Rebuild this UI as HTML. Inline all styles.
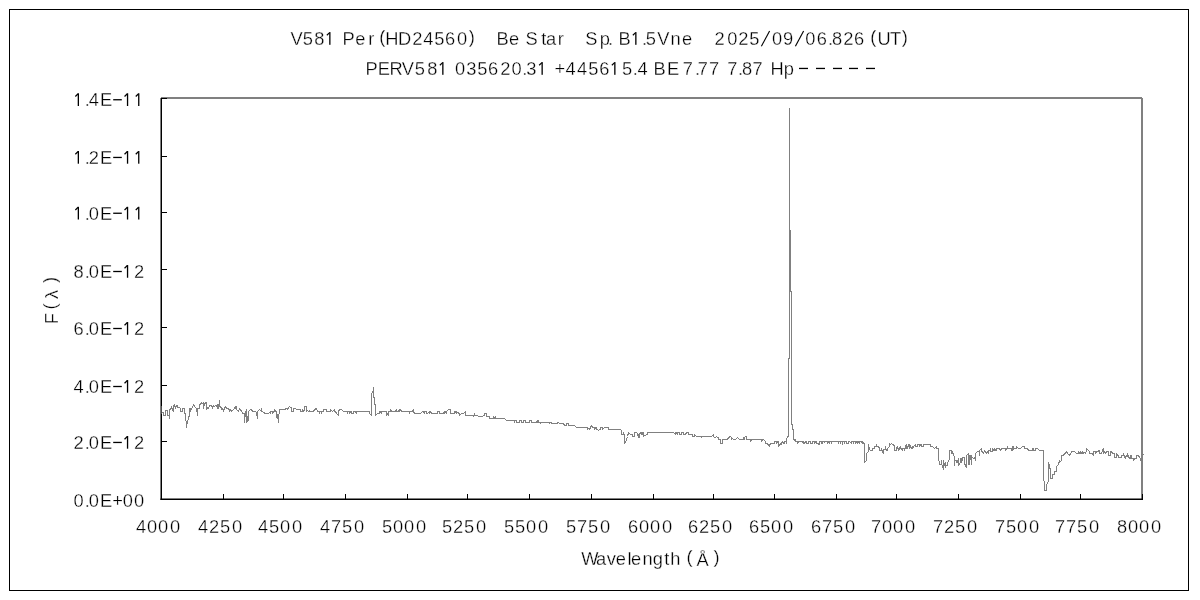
<!DOCTYPE html>
<html><head><meta charset="utf-8"><title>V581 Per spectrum</title>
<style>html,body{margin:0;padding:0;background:#fff;overflow:hidden}svg{display:block;filter:grayscale(1)}text{font-family:"Liberation Sans",sans-serif;white-space:pre;fill:#000;stroke:#fff;stroke-width:0.3px}.h{fill:none;stroke:none}</style></head><body>
<svg width="1200" height="600" viewBox="0 0 1200 600">
<rect x="0" y="0" width="1200" height="600" fill="#fff"/>
<rect x="9.5" y="9.5" width="1179" height="581" fill="none" stroke="#000" stroke-width="1"/>
<rect x="161" y="97" width="981" height="2" fill="#808080"/>
<rect x="1141" y="98" width="2" height="401" fill="#808080"/>
<g fill="none" stroke="#808080" stroke-width="1" shape-rendering="crispEdges" stroke-linejoin="round" stroke-linecap="square">
<polyline points="161.5,412.50 163.5,412.50 163.5,415.50 165.5,415.50 165.5,410.50 167.5,410.50 167.5,415.50 169.5,415.50 169.5,418.50 169.5,409.50 171.5,408.50 171.5,406.50 172.5,409.50 173.5,411.50 173.5,406.50 174.5,404.50 175.5,408.50 176.5,405.50 177.5,405.50 177.5,407.50 179.5,407.50 180.5,408.50 180.5,411.50 182.5,411.50 182.5,408.50 184.5,408.50 184.5,412.50 185.5,414.50 186.5,427.50 187.5,420.50 187.5,423.50 188.5,416.50 189.5,416.50 189.5,408.50 190.5,408.50 190.5,411.50 191.5,408.50 192.5,407.50 193.5,404.50 194.5,406.50 195.5,407.50 196.5,408.50 197.5,415.50 197.5,408.50 199.5,408.50 199.5,404.50 200.5,404.50 201.5,402.50 202.5,403.50 203.5,402.50 203.5,408.50 204.5,403.50 206.5,402.50 206.5,409.50 207.5,407.50 208.5,408.50 209.5,405.50 210.5,405.50 212.5,406.50 212.5,408.50 213.5,405.50 214.5,406.50 215.5,405.50 216.5,405.50 217.5,408.50 217.5,404.50 218.5,408.50 219.5,400.50 219.5,406.50 221.5,407.50 221.5,409.50 222.5,408.50 223.5,411.50 224.5,407.50 225.5,406.50 226.5,408.50 227.5,408.50 229.5,409.50 229.5,411.50 230.5,409.50 231.5,410.50 231.5,411.50 233.5,409.50 234.5,408.50 235.5,406.50 235.5,408.50 236.5,406.50 236.5,409.50 237.5,410.50 238.5,411.50 239.5,408.50 240.5,409.50 241.5,411.50 242.5,412.50 242.5,413.50 244.5,413.50 244.5,422.50 245.5,411.50 246.5,411.50 246.5,422.50 246.5,409.50 247.5,421.50 248.5,420.50 248.5,411.50 250.5,409.50 251.5,410.50 251.5,409.50 252.5,411.50 255.5,411.50 256.5,412.50 257.5,418.50 257.5,411.50 258.5,410.50 259.5,409.50 260.5,410.50 261.5,410.50 261.5,408.50 261.5,411.50 262.5,411.50 264.5,413.50 264.5,412.50 265.5,413.50 268.5,413.50 270.5,411.50 270.5,413.50 270.5,411.50 272.5,411.50 272.5,413.50 273.5,411.50 274.5,411.50 274.5,409.50 275.5,411.50 276.5,411.50 276.5,416.50 277.5,418.50 277.5,414.50 278.5,422.50 278.5,414.50 279.5,413.50 279.5,409.50 285.5,409.50 285.5,408.50 287.5,408.50 287.5,409.50 288.5,407.50 289.5,406.50 290.5,407.50 291.5,407.50 291.5,411.50 293.5,411.50 293.5,408.50 295.5,408.50 296.5,409.50 300.5,409.50 300.5,411.50 302.5,411.50 302.5,409.50 303.5,411.50 304.5,410.50 304.5,406.50 306.5,406.50 306.5,411.50 307.5,410.50 308.5,411.50 309.5,410.50 309.5,411.50 313.5,411.50 313.5,410.50 314.5,410.50 315.5,408.50 316.5,408.50 317.5,411.50 319.5,411.50 319.5,413.50 319.5,411.50 321.5,411.50 321.5,413.50 321.5,411.50 323.5,411.50 323.5,409.50 326.5,409.50 326.5,411.50 330.5,411.50 330.5,409.50 332.5,411.50 333.5,410.50 334.5,409.50 334.5,411.50 335.5,411.50 336.5,413.50 338.5,415.50 338.5,411.50 339.5,409.50 341.5,409.50 342.5,410.50 343.5,411.50 347.5,411.50 347.5,413.50 347.5,411.50 349.5,411.50 349.5,413.50 350.5,411.50 351.5,411.50 351.5,413.50 353.5,413.50 353.5,411.50 355.5,411.50 356.5,413.50 356.5,411.50 359.5,411.50 360.5,411.50 369.5,411.50 369.5,413.50 371.5,415.50 371.5,393.50 372.5,392.50 372.5,391.50 373.5,390.50 373.5,387.50 373.5,397.50 374.5,397.50 374.5,404.50 375.5,404.50 375.5,415.50 377.5,413.50 379.5,413.50 379.5,411.50 380.5,411.50 381.5,413.50 381.5,411.50 386.5,411.50 386.5,415.50 387.5,413.50 388.5,415.50 388.5,411.50 390.5,411.50 390.5,409.50 391.5,411.50 395.5,411.50 396.5,409.50 396.5,411.50 398.5,411.50 399.5,409.50 399.5,411.50 400.5,409.50 401.5,411.50 409.5,411.50 409.5,413.50 409.5,411.50 412.5,411.50 413.5,409.50 413.5,411.50 414.5,413.50 420.5,413.50 422.5,411.50 423.5,411.50 424.5,413.50 424.5,411.50 426.5,411.50 426.5,413.50 427.5,413.50 429.5,411.50 429.5,413.50 430.5,411.50 431.5,413.50 437.5,413.50 437.5,411.50 439.5,411.50 439.5,413.50 443.5,413.50 444.5,411.50 444.5,413.50 445.5,411.50 446.5,413.50 446.5,411.50 448.5,409.50 450.5,409.50 450.5,413.50 454.5,413.50 454.5,411.50 455.5,411.50 456.5,413.50 456.5,411.50 457.5,412.50 459.5,413.50 459.5,415.50 459.5,413.50 460.5,414.50 461.5,413.50 463.5,413.50 464.5,412.50 465.5,411.50 465.5,415.50 473.5,415.50 473.5,416.50 474.5,415.50 474.5,413.50 474.5,415.50 477.5,415.50 478.5,416.50 482.5,416.50 483.5,415.50 484.5,415.50 484.5,413.50 486.5,413.50 486.5,416.50 489.5,416.50 489.5,418.50 493.5,418.50 493.5,416.50 494.5,418.50 495.5,416.50 495.5,418.50 504.5,418.50 506.5,420.50 514.5,420.50 514.5,422.50 514.5,420.50 516.5,420.50 516.5,422.50 519.5,422.50 519.5,420.50 521.5,420.50 521.5,422.50 523.5,422.50 523.5,420.50 525.5,420.50 525.5,422.50 529.5,422.50 529.5,420.50 531.5,420.50 531.5,422.50 536.5,422.50 537.5,420.50 537.5,422.50 538.5,420.50 538.5,422.50 540.5,422.50 540.5,423.50 540.5,422.50 549.5,422.50 549.5,423.50 550.5,422.50 551.5,422.50 551.5,423.50 557.5,423.50 557.5,422.50 558.5,422.50 559.5,423.50 560.5,423.50 563.5,423.50 564.5,425.50 566.5,425.50 566.5,423.50 568.5,423.50 568.5,425.50 574.5,425.50 576.5,427.50 587.5,427.50 587.5,429.50 588.5,428.50 589.5,429.50 590.5,427.50 591.5,425.50 592.5,427.50 594.5,427.50 594.5,429.50 595.5,427.50 596.5,427.50 596.5,429.50 597.5,429.50 598.5,430.50 599.5,429.50 600.5,429.50 600.5,427.50 602.5,427.50 602.5,429.50 603.5,428.50 604.5,427.50 608.5,427.50 608.5,429.50 620.5,429.50 621.5,430.50 621.5,434.50 623.5,434.50 623.5,432.50 624.5,435.50 624.5,443.50 625.5,442.50 626.5,439.50 627.5,436.50 628.5,432.50 630.5,434.50 632.5,434.50 632.5,436.50 634.5,436.50 634.5,432.50 636.5,432.50 637.5,433.50 638.5,437.50 638.5,434.50 639.5,437.50 639.5,433.50 641.5,432.50 641.5,434.50 642.5,432.50 642.5,434.50 643.5,432.50 643.5,436.50 644.5,435.50 647.5,434.50 647.5,432.50 659.5,432.50 660.5,432.50 673.5,432.50 674.5,433.50 675.5,432.50 675.5,434.50 676.5,432.50 677.5,434.50 677.5,432.50 679.5,432.50 679.5,434.50 681.5,434.50 681.5,432.50 683.5,432.50 683.5,434.50 685.5,434.50 686.5,432.50 688.5,432.50 688.5,434.50 692.5,434.50 692.5,436.50 694.5,436.50 694.5,434.50 695.5,435.50 696.5,436.50 701.5,436.50 701.5,437.50 701.5,436.50 711.5,436.50 712.5,435.50 713.5,434.50 713.5,436.50 714.5,437.50 715.5,437.50 716.5,436.50 717.5,437.50 718.5,437.50 718.5,439.50 720.5,439.50 720.5,443.50 722.5,443.50 722.5,439.50 726.5,439.50 727.5,438.50 727.5,439.50 728.5,437.50 730.5,436.50 731.5,437.50 731.5,439.50 732.5,438.50 733.5,439.50 735.5,439.50 737.5,437.50 739.5,439.50 743.5,439.50 743.5,437.50 744.5,439.50 744.5,437.50 745.5,436.50 746.5,436.50 746.5,439.50 750.5,439.50 750.5,441.50 751.5,439.50 759.5,439.50 760.5,439.50 761.5,439.50 761.5,441.50 762.5,439.50 763.5,439.50 765.5,441.50 765.5,443.50 767.5,443.50 768.5,445.50 769.5,444.50 769.5,446.50 770.5,443.50 774.5,443.50 774.5,441.50 776.5,441.50 776.5,443.50 777.5,441.50 778.5,441.50 778.5,446.50 779.5,445.50 780.5,443.50 781.5,442.50 781.5,444.50 782.5,441.50 783.5,443.50 784.5,443.50 784.5,441.50 786.5,441.50 786.5,443.50 786.5,439.50 787.5,436.50 788.5,436.50 788.5,358.50 789.5,358.50 789.5,108.50 789.5,230.50 790.5,230.50 790.5,291.50 791.5,291.50 791.5,424.50 792.5,424.50 792.5,429.50 793.5,429.50 793.5,439.50 795.5,440.50 795.5,439.50 795.5,441.50 797.5,441.50 797.5,443.50 798.5,441.50 800.5,441.50 802.5,441.50 803.5,443.50 803.5,441.50 804.5,443.50 805.5,441.50 806.5,441.50 806.5,443.50 808.5,443.50 808.5,441.50 810.5,441.50 810.5,443.50 812.5,443.50 812.5,441.50 814.5,441.50 814.5,443.50 815.5,441.50 816.5,441.50 816.5,443.50 818.5,443.50 818.5,444.50 819.5,444.50 819.5,441.50 821.5,441.50 821.5,443.50 822.5,443.50 822.5,441.50 824.5,441.50 824.5,442.50 825.5,441.50 827.5,441.50 827.5,443.50 828.5,441.50 829.5,441.50 829.5,443.50 829.5,441.50 831.5,441.50 831.5,443.50 831.5,441.50 838.5,441.50 838.5,443.50 838.5,441.50 840.5,441.50 840.5,443.50 840.5,441.50 842.5,441.50 842.5,444.50 842.5,441.50 844.5,441.50 844.5,443.50 844.5,441.50 846.5,441.50 846.5,443.50 848.5,443.50 848.5,441.50 849.5,441.50 851.5,443.50 851.5,441.50 853.5,441.50 853.5,443.50 853.5,441.50 855.5,441.50 855.5,443.50 856.5,441.50 857.5,441.50 857.5,443.50 857.5,441.50 858.5,441.50 859.5,443.50 859.5,441.50 860.5,441.50 861.5,441.50 862.5,443.50 862.5,441.50 863.5,443.50 864.5,443.50 864.5,462.50 866.5,460.50 866.5,453.50 868.5,451.50 868.5,444.50 869.5,449.50 870.5,450.50 872.5,450.50 872.5,448.50 874.5,448.50 874.5,446.50 876.5,446.50 876.5,444.50 876.5,446.50 878.5,446.50 879.5,448.50 879.5,450.50 881.5,450.50 881.5,448.50 882.5,452.50 883.5,453.50 883.5,449.50 885.5,449.50 885.5,446.50 885.5,449.50 887.5,450.50 887.5,448.50 889.5,446.50 889.5,443.50 890.5,444.50 891.5,443.50 892.5,444.50 893.5,444.50 894.5,446.50 894.5,450.50 896.5,450.50 896.5,447.50 897.5,446.50 898.5,450.50 899.5,448.50 900.5,446.50 900.5,448.50 901.5,448.50 902.5,450.50 902.5,448.50 904.5,448.50 904.5,450.50 905.5,446.50 906.5,444.50 906.5,448.50 907.5,448.50 908.5,444.50 909.5,448.50 909.5,444.50 910.5,446.50 911.5,448.50 912.5,446.50 912.5,448.50 913.5,446.50 915.5,444.50 915.5,446.50 917.5,446.50 917.5,444.50 919.5,444.50 919.5,446.50 920.5,444.50 921.5,444.50 921.5,446.50 923.5,446.50 923.5,444.50 929.5,444.50 930.5,444.50 930.5,446.50 932.5,446.50 934.5,448.50 936.5,446.50 936.5,448.50 938.5,448.50 938.5,460.50 939.5,461.50 939.5,464.50 941.5,464.50 941.5,460.50 941.5,464.50 942.5,465.50 943.5,469.50 943.5,460.50 944.5,465.50 945.5,462.50 945.5,467.50 945.5,465.50 947.5,465.50 947.5,462.50 949.5,459.50 949.5,450.50 951.5,450.50 951.5,453.50 952.5,451.50 953.5,455.50 954.5,456.50 954.5,465.50 954.5,460.50 956.5,460.50 956.5,462.50 957.5,462.50 958.5,458.50 958.5,465.50 959.5,463.50 960.5,462.50 960.5,458.50 961.5,458.50 961.5,462.50 962.5,458.50 962.5,457.50 964.5,457.50 964.5,463.50 965.5,465.50 966.5,467.50 966.5,455.50 967.5,454.50 968.5,453.50 968.5,464.50 969.5,455.50 969.5,464.50 970.5,455.50 971.5,455.50 971.5,464.50 971.5,457.50 972.5,457.50 973.5,458.50 975.5,457.50 975.5,460.50 975.5,453.50 977.5,451.50 978.5,451.50 979.5,452.50 979.5,455.50 979.5,450.50 981.5,448.50 981.5,451.50 982.5,451.50 983.5,453.50 984.5,450.50 985.5,451.50 986.5,453.50 987.5,451.50 988.5,453.50 988.5,450.50 990.5,450.50 990.5,448.50 990.5,451.50 992.5,451.50 992.5,448.50 993.5,450.50 994.5,450.50 994.5,448.50 995.5,450.50 996.5,450.50 996.5,448.50 999.5,448.50 1000.5,450.50 1001.5,449.50 1001.5,448.50 1005.5,448.50 1005.5,450.50 1006.5,449.50 1007.5,446.50 1007.5,448.50 1011.5,448.50 1011.5,450.50 1012.5,446.50 1012.5,450.50 1013.5,446.50 1013.5,449.50 1014.5,448.50 1016.5,448.50 1016.5,446.50 1017.5,447.50 1018.5,448.50 1020.5,448.50 1021.5,447.50 1022.5,446.50 1024.5,446.50 1024.5,448.50 1027.5,448.50 1028.5,450.50 1029.5,450.50 1030.5,450.50 1032.5,450.50 1032.5,448.50 1033.5,448.50 1033.5,450.50 1035.5,450.50 1035.5,448.50 1037.5,448.50 1038.5,449.50 1039.5,450.50 1043.5,450.50 1043.5,480.50 1044.5,481.50 1044.5,490.50 1046.5,490.50 1046.5,484.50 1048.5,481.50 1048.5,462.50 1049.5,467.50 1049.5,464.50 1049.5,468.50 1050.5,468.50 1050.5,478.50 1052.5,478.50 1052.5,474.50 1054.5,474.50 1054.5,471.50 1056.5,471.50 1056.5,466.50 1057.5,465.50 1058.5,464.50 1059.5,460.50 1060.5,461.50 1061.5,460.50 1061.5,455.50 1063.5,455.50 1064.5,453.50 1065.5,453.50 1066.5,451.50 1067.5,453.50 1068.5,454.50 1069.5,455.50 1070.5,453.50 1071.5,452.50 1071.5,451.50 1074.5,451.50 1075.5,452.50 1076.5,453.50 1078.5,453.50 1078.5,451.50 1079.5,453.50 1080.5,453.50 1080.5,451.50 1081.5,453.50 1082.5,453.50 1082.5,451.50 1083.5,453.50 1084.5,452.50 1085.5,453.50 1085.5,452.50 1086.5,451.50 1086.5,448.50 1088.5,450.50 1089.5,451.50 1089.5,453.50 1092.5,453.50 1093.5,455.50 1093.5,451.50 1095.5,451.50 1095.5,453.50 1096.5,451.50 1098.5,451.50 1098.5,450.50 1099.5,450.50 1099.5,453.50 1101.5,453.50 1102.5,450.50 1103.5,448.50 1103.5,453.50 1104.5,451.50 1105.5,453.50 1106.5,451.50 1108.5,451.50 1108.5,455.50 1110.5,455.50 1110.5,451.50 1111.5,451.50 1112.5,453.50 1114.5,453.50 1114.5,457.50 1116.5,457.50 1116.5,453.50 1117.5,455.50 1118.5,455.50 1118.5,457.50 1121.5,457.50 1121.5,455.50 1123.5,455.50 1123.5,453.50 1124.5,457.50 1125.5,456.50 1125.5,458.50 1126.5,455.50 1127.5,456.50 1127.5,453.50 1128.5,456.50 1129.5,458.50 1130.5,455.50 1130.5,458.50 1131.5,455.50 1131.5,458.50 1133.5,458.50 1133.5,460.50 1134.5,458.50 1136.5,458.50 1136.5,455.50 1138.5,455.50 1139.5,457.50 1140.5,458.50 1140.5,460.50 1141.5,455.50 1143.5,454.50"/>
</g>
<rect x="160.5" y="98" width="1.5" height="402" fill="#000"/>
<rect x="160.5" y="498.5" width="982.5" height="1.5" fill="#000"/>
<rect x="160.3" y="406" width="1.3" height="8" fill="#808080"/>
<g fill="#000"><rect x="223" y="494" width="1" height="5"/><rect x="283" y="494" width="1" height="5"/><rect x="345" y="494" width="1" height="5"/><rect x="407" y="494" width="1" height="5"/><rect x="467" y="494" width="1" height="5"/><rect x="529" y="494" width="1" height="5"/><rect x="591" y="494" width="1" height="5"/><rect x="653" y="494" width="1" height="5"/><rect x="713" y="494" width="1" height="5"/><rect x="774" y="494" width="1" height="5"/><rect x="836" y="494" width="1" height="5"/><rect x="896" y="494" width="1" height="5"/><rect x="958" y="494" width="1" height="5"/><rect x="1020" y="494" width="1" height="5"/><rect x="1080" y="494" width="1" height="5"/><rect x="1142" y="494" width="1" height="5"/><rect x="162" y="441" width="5" height="1"/><rect x="162" y="385" width="5" height="1"/><rect x="162" y="327" width="5" height="1"/><rect x="162" y="269" width="5" height="1"/><rect x="162" y="212" width="5" height="1"/><rect x="162" y="156" width="5" height="1"/><rect x="162" y="98" width="5" height="1"/></g>
<text x="290.60 302.83 314.16 324.44 331.50 342.53 355.28 368.15 379.19 385.14 398.08 412.16 423.37 434.18 445.10 457.06 468.72 474.50 474.50 474.50 496.53 509.03 519.20 525.55 541.14 546.02 557.75 565.00 565.00 565.00 585.30 599.71 608.06 612.20 618.53 630.44 642.11 645.83 657.15 670.40 682.03 692.20 692.20 692.20 714.56 727.16 738.16 749.18 761.00 771.91 782.92 795.00 805.16 816.75 828.06 832.01 843.16 854.10 864.50 870.19 877.39 890.07 901.72" y="44.80 44.80 44.80 44.80 44.80 44.80 44.80 44.80 43.10 44.80 44.80 44.80 44.80 44.80 44.80 44.80 43.10 44.80 44.80 44.80 44.80 44.80 44.80 44.80 44.80 44.80 44.80 44.80 44.80 44.80 44.80 44.80 44.80 44.80 44.80 44.80 44.80 44.80 44.80 44.80 44.80 44.80 44.80 44.80 44.80 44.80 44.80 44.80 44.80 44.80 44.80 44.80 44.80 44.80 44.80 44.80 44.80 44.80 44.80 43.10 44.80 44.80 43.10" font-size="18.30">V58<tspan class="h">1</tspan> Per(HD24560)   Be Star   Sp. B<tspan class="h">1</tspan>.5Vne   2025<tspan class="h">/</tspan>09<tspan class="h">/</tspan>06.826 (UT)</text><g fill="#000"><rect x="329.20" y="32.10" width="1.3" height="12.70"/><path d="M326.85 35.30L329.65 32.60" stroke="#000" stroke-width="1.2" fill="none"/><rect x="635.20" y="32.10" width="1.3" height="12.70"/><path d="M632.85 35.30L635.65 32.60" stroke="#000" stroke-width="1.2" fill="none"/><path d="M761.40 46.20L769.60 31.10" stroke="#000" stroke-width="1.15" fill="none"/><path d="M795.40 46.20L803.60 31.10" stroke="#000" stroke-width="1.15" fill="none"/></g>
<text x="365.53 377.79 389.47 401.65 414.83 427.16 437.44 444.50 455.06 466.21 477.18 488.10 500.16 511.41 522.31 526.21 536.74 543.80 554.41 565.47 576.97 588.18 599.25 609.44 621.93 632.86 637.47 648.00 653.53 666.94 679.00 682.65 695.06 697.65 709.00 719.20 727.15 738.11 741.91 752.55 762.50 770.39 783.71 799.00 816.00 833.00 849.00 866.00" y="74.80" font-size="18.30">PERV58<tspan class="h">1</tspan> 035620.3<tspan class="h">1</tspan> +4456<tspan class="h">1</tspan>5.4 BE 7.77 7.87 Hp<tspan class="h">-----</tspan></text><g fill="#000"><rect x="442.20" y="62.10" width="1.3" height="12.70"/><path d="M439.85 65.30L442.65 62.60" stroke="#000" stroke-width="1.2" fill="none"/><rect x="541.50" y="62.10" width="1.3" height="12.70"/><path d="M539.15 65.30L541.95 62.60" stroke="#000" stroke-width="1.2" fill="none"/><rect x="614.20" y="62.10" width="1.3" height="12.70"/><path d="M611.85 65.30L614.65 62.60" stroke="#000" stroke-width="1.2" fill="none"/><rect x="799.00" y="67.80" width="9.00" height="1.3"/><rect x="816.00" y="67.80" width="9.00" height="1.3"/><rect x="833.00" y="67.80" width="9.00" height="1.3"/><rect x="849.00" y="67.80" width="9.00" height="1.3"/><rect x="866.00" y="67.80" width="9.00" height="1.3"/></g>
<text x="73.51 84.71 88.81 99.94 112.16 122.71 133.91" y="506.80" font-size="18.30">0.0E+00</text>
<text x="73.51 84.71 88.81 99.94 113.20 122.14 133.91" y="448.70" font-size="18.30">2.0E<tspan class="h">−1</tspan>2</text><g fill="#000"><rect x="113.20" y="441.80" width="8.60" height="1.3"/><rect x="126.90" y="436.00" width="1.3" height="12.70"/><path d="M124.55 439.20L127.35 436.50" stroke="#000" stroke-width="1.2" fill="none"/></g>
<text x="73.57 84.71 88.81 99.94 113.20 122.14 133.91" y="392.75" font-size="18.30">4.0E<tspan class="h">−1</tspan>2</text><g fill="#000"><rect x="113.20" y="385.85" width="8.60" height="1.3"/><rect x="126.90" y="380.05" width="1.3" height="12.70"/><path d="M124.55 383.25L127.35 380.55" stroke="#000" stroke-width="1.2" fill="none"/></g>
<text x="73.45 84.71 88.81 99.94 113.20 122.14 133.91" y="334.75" font-size="18.30">6.0E<tspan class="h">−1</tspan>2</text><g fill="#000"><rect x="113.20" y="327.85" width="8.60" height="1.3"/><rect x="126.90" y="322.05" width="1.3" height="12.70"/><path d="M124.55 325.25L127.35 322.55" stroke="#000" stroke-width="1.2" fill="none"/></g>
<text x="73.51 84.71 88.81 99.94 113.20 122.14 133.91" y="277.75" font-size="18.30">8.0E<tspan class="h">−1</tspan>2</text><g fill="#000"><rect x="113.20" y="270.85" width="8.60" height="1.3"/><rect x="126.90" y="265.05" width="1.3" height="12.70"/><path d="M124.55 268.25L127.35 265.55" stroke="#000" stroke-width="1.2" fill="none"/></g>
<text x="72.94 84.71 88.81 99.94 113.20 122.14 133.34" y="219.50" font-size="18.30"><tspan class="h">1</tspan>.0E<tspan class="h">−11</tspan></text><g fill="#000"><rect x="77.70" y="206.80" width="1.3" height="12.70"/><path d="M75.35 210.00L78.15 207.30" stroke="#000" stroke-width="1.2" fill="none"/><rect x="113.20" y="212.60" width="8.60" height="1.3"/><rect x="126.90" y="206.80" width="1.3" height="12.70"/><path d="M124.55 210.00L127.35 207.30" stroke="#000" stroke-width="1.2" fill="none"/><rect x="138.10" y="206.80" width="1.3" height="12.70"/><path d="M135.75 210.00L138.55 207.30" stroke="#000" stroke-width="1.2" fill="none"/></g>
<text x="72.94 84.71 88.81 99.94 113.20 122.14 133.34" y="163.70" font-size="18.30"><tspan class="h">1</tspan>.2E<tspan class="h">−11</tspan></text><g fill="#000"><rect x="77.70" y="151.00" width="1.3" height="12.70"/><path d="M75.35 154.20L78.15 151.50" stroke="#000" stroke-width="1.2" fill="none"/><rect x="113.20" y="156.80" width="8.60" height="1.3"/><rect x="126.90" y="151.00" width="1.3" height="12.70"/><path d="M124.55 154.20L127.35 151.50" stroke="#000" stroke-width="1.2" fill="none"/><rect x="138.10" y="151.00" width="1.3" height="12.70"/><path d="M135.75 154.20L138.55 151.50" stroke="#000" stroke-width="1.2" fill="none"/></g>
<text x="72.94 84.71 88.87 99.94 113.20 122.14 133.34" y="106.00" font-size="18.30"><tspan class="h">1</tspan>.4E<tspan class="h">−11</tspan></text><g fill="#000"><rect x="77.70" y="93.30" width="1.3" height="12.70"/><path d="M75.35 96.50L78.15 93.80" stroke="#000" stroke-width="1.2" fill="none"/><rect x="113.20" y="99.10" width="8.60" height="1.3"/><rect x="126.90" y="93.30" width="1.3" height="12.70"/><path d="M124.55 96.50L127.35 93.80" stroke="#000" stroke-width="1.2" fill="none"/><rect x="138.10" y="93.30" width="1.3" height="12.70"/><path d="M135.75 96.50L138.55 93.80" stroke="#000" stroke-width="1.2" fill="none"/></g>
<text x="136.07 146.91 158.01 170.11" y="532.80" font-size="18.30">4000</text>
<text x="198.07 208.91 220.03 232.11" y="532.80" font-size="18.30">4250</text>
<text x="258.07 268.93 280.01 292.11" y="532.80" font-size="18.30">4500</text>
<text x="320.07 330.90 342.03 354.11" y="532.80" font-size="18.30">4750</text>
<text x="382.03 392.91 404.01 416.11" y="532.80" font-size="18.30">5000</text>
<text x="442.03 452.91 464.03 476.11" y="532.80" font-size="18.30">5250</text>
<text x="504.03 514.93 526.01 538.11" y="532.80" font-size="18.30">5500</text>
<text x="566.03 576.90 588.03 600.11" y="532.80" font-size="18.30">5750</text>
<text x="627.95 638.91 650.01 662.11" y="532.80" font-size="18.30">6000</text>
<text x="687.95 698.91 710.03 722.11" y="532.80" font-size="18.30">6250</text>
<text x="748.95 759.93 771.01 783.11" y="532.80" font-size="18.30">6500</text>
<text x="810.95 821.90 833.03 845.11" y="532.80" font-size="18.30">6750</text>
<text x="871.00 881.91 893.01 905.11" y="532.80" font-size="18.30">7000</text>
<text x="933.00 943.91 955.03 967.11" y="532.80" font-size="18.30">7250</text>
<text x="995.00 1005.93 1017.01 1029.11" y="532.80" font-size="18.30">7500</text>
<text x="1055.00 1065.90 1077.03 1089.11" y="532.80" font-size="18.30">7750</text>
<text x="1117.01 1127.91 1139.01 1151.11" y="532.80" font-size="18.30">8000</text>
<text x="581.20 595.92 606.77 615.83 627.56 630.93 642.40 652.87 664.14 670.27 680.00 686.44 696.40 713.47" y="564.80 564.80 564.80 564.80 564.80 564.80 564.80 564.80 564.80 564.80 564.80 563.10 565.70 563.10" font-size="18.30">Wavelength (Å)</text>
<g transform="translate(58,322.5) rotate(-90)">
<text x="-1.72 13.04 23.44 39.57" y="0.00 -1.70 0.00 -1.70" font-size="18.30">F(λ)</text>
</g>
</svg></body></html>
